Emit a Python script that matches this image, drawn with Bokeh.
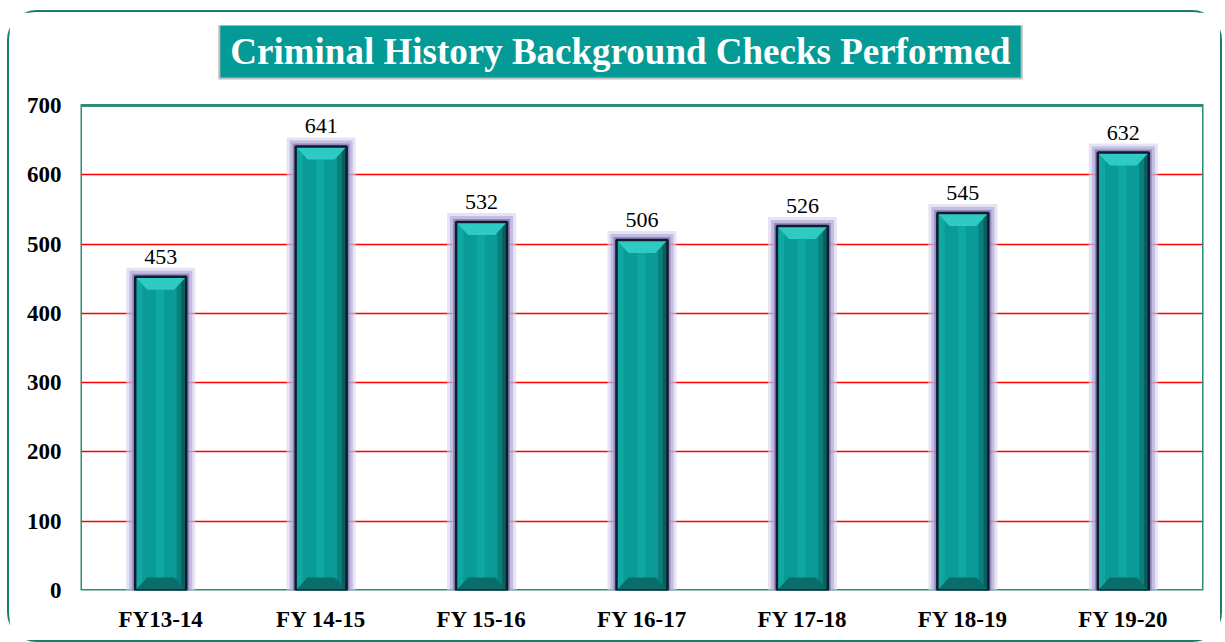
from bokeh.plotting import figure
from bokeh.models import Range1d, FixedTicker, Label, LabelSet, ColumnDataSource
from bokeh.core.properties import value
from bokeh.embed import file_html
from bokeh.resources import INLINE

# ---- data ----
categories = ["FY13-14", "FY 14-15", "FY 15-16", "FY 16-17", "FY 17-18", "FY 18-19", "FY 19-20"]
checks = [453, 641, 532, 506, 526, 545, 632]
y_ticks = [0, 100, 200, 300, 400, 500, 600, 700]
title_text = "Criminal History Background Checks Performed"

SERIF = "Liberation Serif"
TEAL = "#0a9b96"

Y_MAX = y_ticks[-1]
xs = [i + 0.5 for i in range(len(categories))]
W = 0.318            # bar width in data units
PX_Y = 485 / Y_MAX   # px per y unit
PX_X = 1123 / 7      # px per x unit
HEAD = 80            # px of header space above the plot area (inside the frame)

p = figure(width=1215, height=632, x_range=Range1d(0, len(categories)),
           y_range=Range1d(0, Y_MAX + HEAD / PX_Y),
           output_backend="svg", toolbar_location=None,
           min_border_left=71, min_border_right=21, min_border_top=13, min_border_bottom=54)
p.styles = {"border": "2px solid #1c7c6c", "border-radius": "30px",
            "margin-left": "7px", "margin-top": "10px"}
p.background_fill_color = "white"
p.border_fill_color = "white"
p.outline_line_color = None

# grid
p.xgrid.visible = False
p.ygrid.ticker = FixedTicker(ticks=y_ticks[1:-1])
p.ygrid.grid_line_color = "#ff0000"
p.ygrid.grid_line_width = 1.6

# axes
p.yaxis.ticker = FixedTicker(ticks=y_ticks)
p.xaxis.ticker = FixedTicker(ticks=xs)
p.xaxis.major_label_overrides = {x: c for x, c in zip(xs, categories)}
for ax in (p.xaxis[0], p.yaxis[0]):
    ax.axis_line_color = None
    ax.major_tick_line_color = None
    ax.minor_tick_line_color = None
    ax.major_tick_in = 0
    ax.major_tick_out = 0
    ax.major_label_text_font = SERIF
    ax.major_label_text_font_style = "bold"
    ax.major_label_text_font_size = "23px"
    ax.major_label_text_color = "black"
p.yaxis.major_label_standoff = 19
p.xaxis.major_label_standoff = 16

# plot-area border
p.quad(left=[0], right=[len(categories)], bottom=[0], top=[Y_MAX],
       fill_color=None, line_color="#2e8b78", line_width=3)

# bar geometry derived from data
left = [x - W / 2 for x in xs]
right = [x + W / 2 for x in xs]
src = ColumnDataSource(dict(x=xs, top=checks, left=left, right=right,
                            label=[str(v) for v in checks]))

# glow
p.vbar(x=xs, top=[v + 9 / PX_Y for v in checks], width=W + 18 / PX_X, bottom=0,
       fill_color="#d6d1ec", fill_alpha=0.6, line_color=None)
p.vbar(x=xs, top=[v + 6 / PX_Y for v in checks], width=W + 12 / PX_X, bottom=0,
       fill_color="#aca4d4", fill_alpha=0.6, line_color=None)
p.vbar(x=xs, top=[v + 3 / PX_Y for v in checks], width=W + 6 / PX_X, bottom=0,
       fill_color="#7f74b6", fill_alpha=0.7, line_color=None)

# main bar
p.vbar(x="x", top="top", width=W, bottom=0, source=src, fill_color=TEAL, line_color=None)
# left lighter strip, centre highlight, right dark strip
p.quad(left=left, right=[l + 0.045 for l in left], top=checks, bottom=0,
       fill_color="#10a8a2", line_color=None)
p.quad(left=[x - 0.03 for x in xs], right=[x + 0.02 for x in xs], top=checks, bottom=0,
       fill_color="#0fa7a1", line_color=None)
p.quad(left=[r - 0.06 for r in right], right=right, top=checks, bottom=0,
       fill_color="#0a7f7b", line_color=None)
p.quad(left=[r - 0.03 for r in right], right=right, top=checks, bottom=0,
       fill_color="#07605d", line_color=None)

# bevel caps (trapezoids)
cap = 13 / PX_Y
inset = 0.075
top_xs = [[l, r, r - inset, l + inset] for l, r in zip(left, right)]
top_ys = [[v, v, v - cap, v - cap] for v in checks]
p.patches(top_xs, top_ys, fill_color="#2dcbc4", line_color=None)
bot_ys = [[0, 0, cap, cap] for _ in checks]
p.patches(top_xs, bot_ys, fill_color="#096d69", line_color=None)

# outline
p.vbar(x="x", top="top", width=W, bottom=0, source=src, fill_color=None,
       line_color="#121a2c", line_width=2.5)

# value labels
p.add_layout(LabelSet(x="x", y="top", text="label", source=src, y_offset=13,
                      text_align="center", text_baseline="alphabetic",
                      text_font=value(SERIF), text_font_size=value("22px"),
                      text_color="black"))

# title box in the header space
p.add_layout(Label(x=(620 - 80) / PX_X, y=Y_MAX + (105 - 50.5) / PX_Y, text=title_text,
                   text_align="center", text_baseline="middle",
                   text_font=SERIF, text_font_style="bold", text_font_size="37px",
                   text_color="white", background_fill_color="#049a96",
                   border_line_color="#bdbdbd", border_line_width=2,
                   padding=dict(left=11, right=11, top=7, bottom=7)))

open("out.html", "w").write(file_html(p, INLINE))
